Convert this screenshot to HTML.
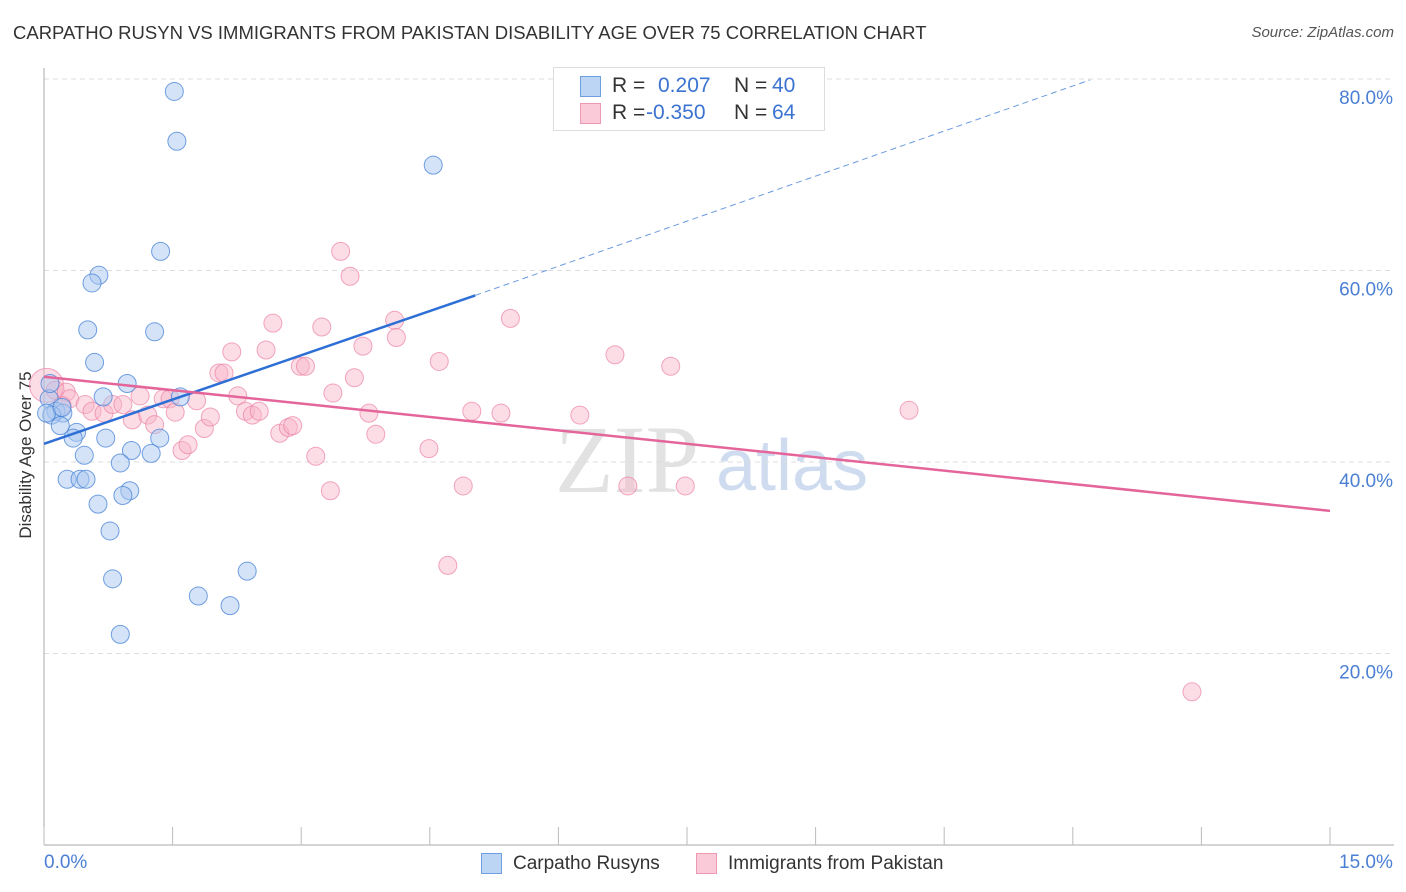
<!DOCTYPE html>
<html><head><meta charset="utf-8">
<style>
body{margin:0;background:#fff;font-family:"Liberation Sans",sans-serif;}
#wrap{position:relative;width:1406px;height:892px;overflow:hidden;}
.t{position:absolute;white-space:nowrap;}
</style></head>
<body>
<div id="wrap">
<div class="t" style="left:13px;top:22px;font-size:18.5px;color:#333;">CARPATHO RUSYN VS IMMIGRANTS FROM PAKISTAN DISABILITY AGE OVER 75 CORRELATION CHART</div>
<div class="t" style="right:12px;top:24px;font-size:15px;color:#555;font-style:italic;">Source: ZipAtlas.com</div>
<div class="t" style="left:-64px;top:445px;width:180px;text-align:center;font-size:17px;color:#333;transform:rotate(-90deg);">Disability Age Over 75</div>
<svg id="svg" width="1406" height="892" style="position:absolute;left:0;top:0"></svg>
<div class="t" style="left:44px;top:852px;font-size:19px;color:#4a7fd4;">0.0%</div>
<div class="t" style="left:1339px;top:852px;font-size:19px;color:#4a7fd4;">15.0%</div>
<div style="position:absolute;left:481px;top:853px;">
<div style="position:absolute;left:0;top:0;width:19px;height:19px;background:#bcd5f5;border:1px solid #6f9fe0;"></div>
<div class="t" style="left:32px;top:0;font-size:19px;color:#333;">Carpatho Rusyns</div></div>
<div style="position:absolute;left:696px;top:853px;">
<div style="position:absolute;left:0;top:0;width:19px;height:19px;background:#fbcad8;border:1px solid #ee98b2;"></div>
<div class="t" style="left:32px;top:0;font-size:19px;color:#333;">Immigrants from Pakistan</div></div>
<div style="position:absolute;left:553px;top:67px;width:270px;height:62px;border:1px solid #ddd;background:#fff;font-size:21px;">
<div style="position:absolute;left:26px;top:8px;width:19px;height:19px;background:#bcd5f5;border:1px solid #6f9fe0;"></div>
<div class="t" style="left:58px;top:6px;color:#333;">R =</div>
<div class="t" style="left:104px;top:6px;color:#3b73d1;">0.207</div>
<div class="t" style="left:180px;top:6px;color:#333;">N =</div>
<div class="t" style="left:218px;top:6px;color:#3b73d1;">40</div>
<div style="position:absolute;left:26px;top:35px;width:19px;height:19px;background:#fbcad8;border:1px solid #ee98b2;"></div>
<div class="t" style="left:58px;top:33px;color:#333;">R =</div>
<div class="t" style="left:92px;top:33px;color:#3b73d1;">-0.350</div>
<div class="t" style="left:180px;top:33px;color:#333;">N =</div>
<div class="t" style="left:218px;top:33px;color:#3b73d1;">64</div>
</div>
</div>
<script>
const yTicks=[20,40,60,80];
const yTickLabels=["20.0%","40.0%","60.0%","80.0%"];
const xTicks=[0,1.5,3,4.5,6,7.5,9,10.5,12,13.5,15];
const blueX=[1.52,1.55,4.54,1.36,0.64,0.56,0.51,1.29,0.59,0.97,0.69,1.59,0.06,0.14,0.22,0.09,0.19,0.38,0.34,0.72,1.35,1.02,1.25,0.47,0.89,0.27,0.42,0.49,1.0,0.92,0.63,0.77,0.8,2.37,1.80,2.17,0.89,0.07,0.03,0.21];
const blueY=[78.7,73.5,71.0,62.0,59.5,58.7,53.8,53.6,50.4,48.2,46.8,46.8,46.6,45.3,45.1,44.9,43.8,43.1,42.5,42.5,42.5,41.2,40.9,40.7,39.9,38.2,38.2,38.2,37.0,36.5,35.6,32.8,27.8,28.6,26.0,25.0,22.0,48.2,45.1,45.7];
const pinkX=[0.03,0.13,0.26,0.30,0.21,0.48,0.56,0.70,0.80,0.92,1.03,1.12,1.21,1.29,1.39,1.47,1.53,1.61,1.68,1.78,1.87,1.94,2.04,2.10,2.19,2.26,2.35,2.43,2.51,2.59,2.67,2.75,2.85,2.90,2.99,3.05,3.17,3.24,3.34,3.37,3.46,3.57,3.62,3.72,3.79,3.87,4.09,4.11,4.49,4.61,4.71,4.89,4.99,5.33,5.44,6.25,6.66,6.81,7.31,7.48,10.09,13.39];
const pinkY=[48.0,47.5,47.3,46.6,45.9,46.0,45.3,45.1,46.0,46.0,44.4,46.9,44.9,43.9,46.6,46.6,45.2,41.2,41.8,46.4,43.5,44.7,49.3,49.3,51.5,46.9,45.3,44.9,45.3,51.7,54.5,43.0,43.6,43.8,50.0,50.0,40.6,54.1,37.0,47.2,62.0,59.4,48.8,52.1,45.1,42.9,54.8,53.0,41.4,50.5,29.2,37.5,45.3,45.1,55.0,44.9,51.2,37.5,50.0,37.5,45.4,16.0];
const blueTrend=[[0,41.9],[5.03,57.4]];
const blueDash=[[5.03,57.4],[12.2,79.9]];
const pinkTrend=[[0,48.9],[15,34.9]];
const X0=44,X1=1330,Y0=845,PX20=191.5;
const sx=v=>X0+(X1-X0)*v/15;
const sy=v=>Y0-PX20*v/20;
const svg=document.getElementById('svg');
const NS='http://www.w3.org/2000/svg';
function mk(t,a){const e=document.createElementNS(NS,t);for(const k in a)e.setAttribute(k,a[k]);svg.appendChild(e);return e;}
let w=mk('text',{x:555,y:492,'font-size':96,'font-family':'Liberation Serif',fill:'#e2e2e2'});w.textContent='ZIP';


let w2=mk('text',{x:716,y:490,'font-size':72,'font-family':'Liberation Sans',fill:'#cfdcf0'});w2.textContent='atlas';


yTicks.forEach((v,i)=>{
 const g=mk('line',{x1:X0,x2:1394,y1:sy(v),y2:sy(v),stroke:'#ddd','stroke-dasharray':'5,4'});
 
 
 const t=mk('text',{x:1393,y:sy(v)+25,'text-anchor':'end','font-size':19,fill:'#4a7fd4','font-family':'Liberation Sans'});
 t.textContent=yTickLabels[i];
 
 
});
const ax=mk('line',{x1:X0,x2:X0,y1:68,y2:Y0,stroke:'#aaa'});


const xa=mk('line',{x1:X0,x2:1394,y1:Y0,y2:Y0,stroke:'#aaa'});


xTicks.forEach(v=>{const t=mk('line',{x1:sx(v),x2:sx(v),y1:827,y2:Y0,stroke:'#bbb'});
 
 });
pinkX.forEach((v,i)=>{const c=mk('circle',{cx:sx(v),cy:sy(pinkY[i]),r:i==0?17:9,fill:'rgba(248,180,200,0.45)',stroke:'rgba(235,130,165,0.7)','stroke-width':1});
 
 });
blueX.forEach((v,i)=>{const c=mk('circle',{cx:sx(v),cy:sy(blueY[i]),r:9,fill:'rgba(170,200,240,0.5)',stroke:'rgba(70,130,215,0.75)','stroke-width':1});
 
 });
const bl=mk('line',{x1:sx(blueTrend[0][0]),y1:sy(blueTrend[0][1]),x2:sx(blueTrend[1][0]),y2:sy(blueTrend[1][1]),stroke:'#2e6fd6','stroke-width':2.5});


const bd=mk('line',{x1:sx(blueDash[0][0]),y1:sy(blueDash[0][1]),x2:sx(blueDash[1][0]),y2:sy(blueDash[1][1]),stroke:'#6a9ae0','stroke-width':1,'stroke-dasharray':'6,4'});


const pl=mk('line',{x1:sx(pinkTrend[0][0]),y1:sy(pinkTrend[0][1]),x2:sx(pinkTrend[1][0]),y2:sy(pinkTrend[1][1]),stroke:'#e4659a','stroke-width':2.5});


</script>
</body></html>
